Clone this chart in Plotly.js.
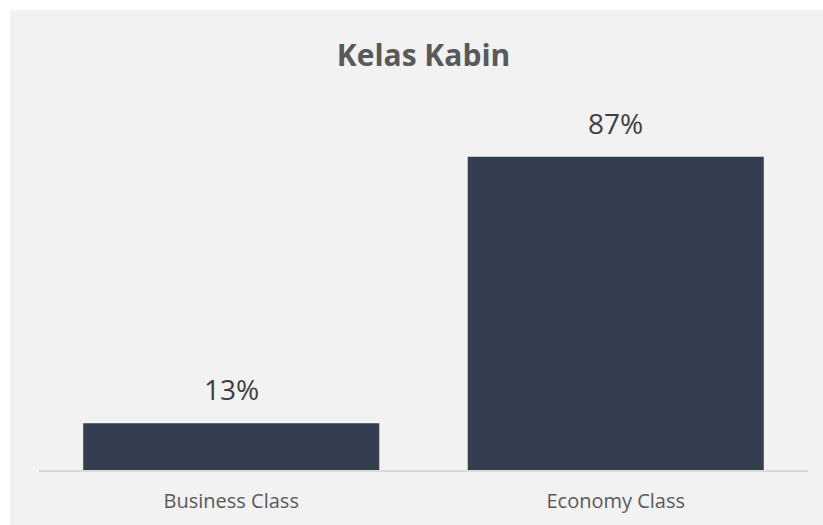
<!DOCTYPE html>
<html>
<head>
<meta charset="utf-8">
<script src="https://cdn.plot.ly/plotly-3.0.1.min.js"></script>
<style>
  html, body { margin: 0; padding: 0; background: #ffffff; }
  #chart { position: absolute; left: 10px; top: 10px; width: 813px; height: 515px; }
</style>
</head>
<body>
<div id="chart"></div>
<script>
const categories = ["Business Class", "Economy Class"];
const shares = [0.13, 0.87];
const shareLabels = ["13%", "87%"];

const font = "'Open Sans', 'Noto Sans', sans-serif";

const trace = {
  type: "bar",
  x: categories,
  y: shares,
  marker: { color: "#333f50" },
  hoverinfo: "skip"
};

const annotations = categories.map((c, i) => ({
  x: c, y: shares[i], xref: "x", yref: "y",
  text: shareLabels[i],
  showarrow: false,
  yanchor: "bottom",
  yshift: 13,
  font: { family: font, size: 28, color: "#404040" }
}));

const layout = {
  width: 813, height: 515,
  paper_bgcolor: "#f2f2f2",
  plot_bgcolor: "#f2f2f2",
  margin: { l: 29, r: 15, t: 100, b: 55 },
  bargap: 0.23,
  showlegend: false,
  title: {
    text: "<b>Kelas Kabin</b>",
    x: 0.5, xref: "paper", y: 0.911, yanchor: "middle",
    font: { family: font, size: 30, color: "#595959" }
  },
  xaxis: {
    type: "category",
    showline: true, linecolor: "#d9d9d9", linewidth: 1.5,
    showgrid: false, zeroline: false, ticks: "",
    ticklabelstandoff: 12,
    tickfont: { family: font, size: 20, color: "#595959" },
    fixedrange: true
  },
  yaxis: {
    range: [0, 1],
    visible: false,
    showgrid: false, zeroline: false,
    fixedrange: true
  },
  annotations: annotations
};

Plotly.newPlot("chart", [trace], layout, { displayModeBar: false, staticPlot: true });
</script>
</body>
</html>
